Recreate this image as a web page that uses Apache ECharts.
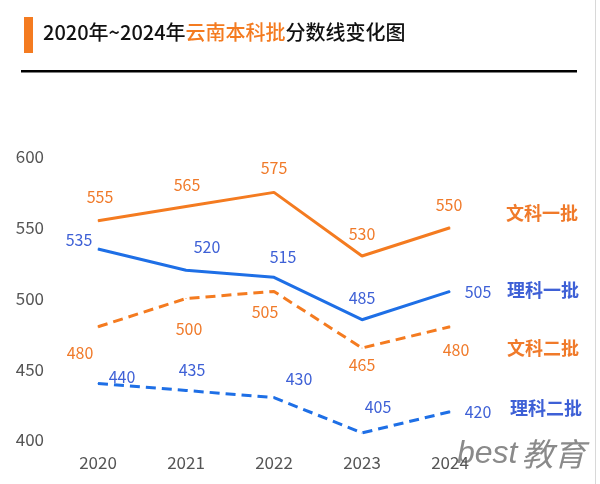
<!DOCTYPE html>
<html><head><meta charset="utf-8">
<script src="https://cdn.jsdelivr.net/npm/echarts@6/dist/echarts.min.js"></script>
<style>html,body{margin:0;padding:0;background:#fff}#c{width:600px;height:484px}</style>
</head><body><div id="c"></div>
<script>
var years = ['2020','2021','2022','2023','2024'];
var wenYi = [555, 565, 575, 530, 550];
var liYi = [535, 520, 515, 485, 505];
var wenEr = [480, 500, 505, 465, 480];
var liEr = [440, 435, 430, 405, 420];
var seriesNames = ['文科一批','理科一批','文科二批','理科二批'];
var yTicks = [400, 450, 500, 550, 600];

// label offsets (layout only)
var offWenYi = [[2,-24],[1,-22],[0,-24],[0,-22],[-1,-23]];
var offLiYi = [[-19,-9],[21,-23],[9,-20],[0,-22],[28,0]];
var offWenEr = [[-18,26],[3,30],[-9,20],[0,17],[6,23]];
var offLiEr = [[24,-6],[6,-21],[25,-19],[16,-26],[28,0]];

var ORANGE = '#F47B20', BLUE = '#1E6FE6', ORANGE_T = '#F07A2A', BLUE_T = '#3E60D6';
var FONT = '"Noto Sans CJK SC", "Noto Sans", sans-serif';

function mk(vals, offs){
  return vals.map(function(v,i){
    return {value:v, label:{offset:offs[i]}};
  });
}
function series(name, vals, offs, lineColor, textColor, dashed, endOff){
  return {
    name:name, type:'line', data:mk(vals, offs),
    symbol:'circle', symbolSize:1, showSymbol:true,
    itemStyle:{color:lineColor},
    lineStyle:{color:lineColor, width:3, type: dashed ? [10,6] : 'solid'},
    label:{show:true, position:'inside', color:textColor, fontSize:16, fontFamily:FONT},
    endLabel:{show:true, formatter:'{a}', color:textColor, fontSize:18, fontWeight:'bold', fontFamily:FONT, offset:endOff},
    emphasis:{disabled:true}, animation:false
  };
}

var chart = echarts.init(document.getElementById('c'));
chart.setOption({
  animation:false,
  grid:{left:98, right:150, top:157, bottom:44},
  xAxis:{type:'category', data:years, boundaryGap:false,
    axisLine:{show:false}, axisTick:{show:false}, splitLine:{show:false},
    axisLabel:{color:'#555', fontSize:17, margin:14, fontFamily:FONT}},
  yAxis:{type:'value', min:yTicks[0], max:yTicks[yTicks.length-1], interval:50,
    axisLine:{show:false}, axisTick:{show:false}, splitLine:{show:false},
    axisLabel:{color:'#555', fontSize:17, margin:54, fontFamily:FONT}},
  series:[
    series(seriesNames[0], wenYi, offWenYi, ORANGE, ORANGE_T, false, [48,-15]),
    series(seriesNames[1], liYi, offLiYi, BLUE, BLUE_T, false, [49,-1]),
    series(seriesNames[2], wenEr, offWenEr, ORANGE, ORANGE_T, true, [49,21]),
    series(seriesNames[3], liEr, offLiEr, BLUE, BLUE_T, true, [52,-4])
  ],
  graphic:[
    {type:'rect', shape:{x:24,y:17,width:9,height:36}, style:{fill:'#F47B20'}},
    {type:'text', left:43, top:22, style:{
      text:'{b|2020年~2024年}{o|云南本科批}{b|分数线变化图}',
      rich:{
        b:{fontSize:20, fill:'#111', fontFamily:FONT, fontWeight:500},
        o:{fontSize:20, fill:'#F47B20', fontFamily:FONT, fontWeight:500}
      }}},
    {type:'rect', shape:{x:21,y:70,width:556,height:2.5}, style:{fill:'#000'}},
    {type:'rect', shape:{x:595,y:0,width:1,height:484}, style:{fill:'#d8d8d8'}},
    {type:'text', left:457, top:438, style:{
      text:'{a|best}{c|教育}',
      rich:{
        a:{fontSize:32, fill:'#8a8a8a', fontStyle:'italic', fontFamily:'"Liberation Sans", sans-serif'},
        c:{fontSize:32, fill:'#8a8a8a', fontStyle:'italic', fontFamily:FONT, padding:[0,0,0,4]}
      }}}
  ]
});
</script>
</body></html>
